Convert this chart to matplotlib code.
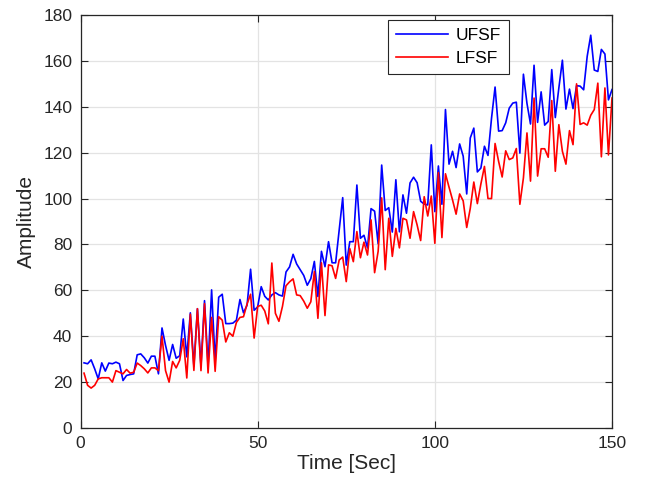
import matplotlib
matplotlib.use("Agg")
import matplotlib.pyplot as plt
import numpy as np

time_sec = list(range(1, 151))

ufsf = [28.4, 28, 29.7, 25.8, 21.4, 28.4, 24.8, 28.3, 28, 28.7,
        28, 20.7, 22.9, 23.3, 23.6, 31.9, 32.3, 30.6, 28.3, 31.3,
        31.3, 23.6, 43.6, 36, 29.5, 36.4, 30.4, 31.5, 47.5, 31,
        50.2, 27, 52, 27, 55.5, 27, 60.2, 29, 57, 58.3,
        45.5, 45.5, 45.7, 47, 56, 50.2, 53.5, 69.2, 51.3, 52.8,
        61.6, 57.4, 55.8, 58, 59, 58, 57.5, 68, 70.2, 75.7,
        71.5, 69, 66.5, 62.2, 65.1, 72.6, 57.3, 77, 70.3, 81.2,
        72, 72, 86, 100.4, 71, 81.2, 81.2, 105.9, 82.7, 84,
        78.5, 95.6, 94.5, 80.3, 114.6, 94.8, 96, 85.4, 108.2, 85.5,
        101.6, 93.6, 106.8, 109.3, 106.9, 98.8, 97.6, 97.2, 123.4, 94.3,
        114.2, 97.5, 138.8, 115, 120.6, 113.5, 123.8, 118.5, 102, 126.4,
        130.7, 111.6, 113.3, 122.8, 118.8, 135, 148.6, 129.4, 129.6, 133,
        139.4, 141.6, 142, 119.8, 154.2, 141.5, 132.5, 158.1, 133.2, 146.5,
        132, 133.6, 156.2, 135.3, 148.2, 160.3, 139, 147.7, 139.2, 149.2,
        149, 147.4, 162, 171.2, 156, 155.4, 165, 163, 143, 147.5]

lfsf = [23.9, 18.6, 17.4, 18.6, 21.4, 21.9, 21.9, 21.9, 20, 25,
        24.3, 23.6, 25.5, 23.9, 24.3, 28.3, 27.2, 25.8, 24, 26.2,
        26.2, 25, 40, 25, 20, 29, 26.2, 29.5, 38.9, 21.8,
        49.6, 25.1, 52, 25, 54.2, 24, 48.2, 24.7, 48.5, 47,
        37.5, 41.5, 40, 46, 48.2, 48.5, 54, 58.3, 39.2, 53,
        53.5, 51, 45.4, 71.9, 50, 46.5, 53, 62, 63.7, 65,
        58, 57.7, 55.3, 52.2, 55, 68.2, 47.8, 72, 49, 71.1,
        70.7, 65.2, 73.2, 74.5, 63.8, 78.2, 72.5, 85.6, 74.2, 81,
        75.4, 90.7, 67.7, 77, 100.3, 69, 91.4, 74.8, 87, 78.5,
        91.4, 90.7, 82.7, 94.3, 88.5, 81.7, 100.8, 92.4, 101.1, 80.5,
        111.3, 83, 110.8, 105, 99.4, 93.2, 102, 99, 87.4, 95.7,
        107.2, 97.8, 106.4, 114, 100, 100, 124, 116.2, 109.4, 120.8,
        117, 117.7, 121.8, 97.5, 109, 128.6, 107.6, 143.8, 109.8, 121.7,
        121.7, 118, 142.7, 111.9, 132.2, 120.6, 115, 129.6, 123.5, 150,
        132.3, 133, 132, 136.3, 138.8, 150.3, 118.2, 148.2, 119, 143.8]

x_ticks = [0, 50, 100, 150]
y_ticks = [0, 20, 40, 60, 80, 100, 120, 140, 160, 180]

plt.rcParams['font.family'] = ['Liberation Sans', 'DejaVu Sans']

fig = plt.figure(figsize=(6.45, 4.91), dpi=100)
ax = fig.add_axes([80.5/645, 1-428/491, (612-80.5)/645, (428-15)/491])

ax.plot(time_sec, ufsf, color=(0, 0, 1), lw=1.2, label='UFSF')
ax.plot(time_sec, lfsf, color=(1, 0, 0), lw=1.2, label='LFSF')

ax.set_xlim(0, 150)
ax.set_ylim(0, 180)
ax.set_xticks(x_ticks)
ax.set_yticks(y_ticks)
ax.grid(True, color='#e3e3e3', lw=0.9)
ax.set_axisbelow(True)
edge = '#262626'
for s in ax.spines.values():
    s.set_color(edge)
    s.set_linewidth(0.9)
ax.tick_params(direction='in', length=5, width=0.8, colors=edge,
               top=True, right=True, labelsize=12.5, pad=6)
for lab in ax.get_xticklabels() + ax.get_yticklabels():
    lab.set_color('#262626')
ax.set_xlabel('Time [Sec]', fontsize=15, color='#262626', labelpad=2)
ax.set_ylabel('Amplitude', fontsize=15, color='#262626', labelpad=5)

leg = ax.legend(loc='upper left', bbox_to_anchor=(0.5786, 0.988),
                fontsize=12.5, frameon=True, fancybox=False, handlelength=3.0,
                borderpad=0.45, labelspacing=0.45, handletextpad=0.45,
                borderaxespad=0)
leg.get_frame().set_edgecolor(edge)
leg.get_frame().set_linewidth(0.8)
leg.get_frame().set_alpha(1)

fig.savefig('out.png', dpi=100)
